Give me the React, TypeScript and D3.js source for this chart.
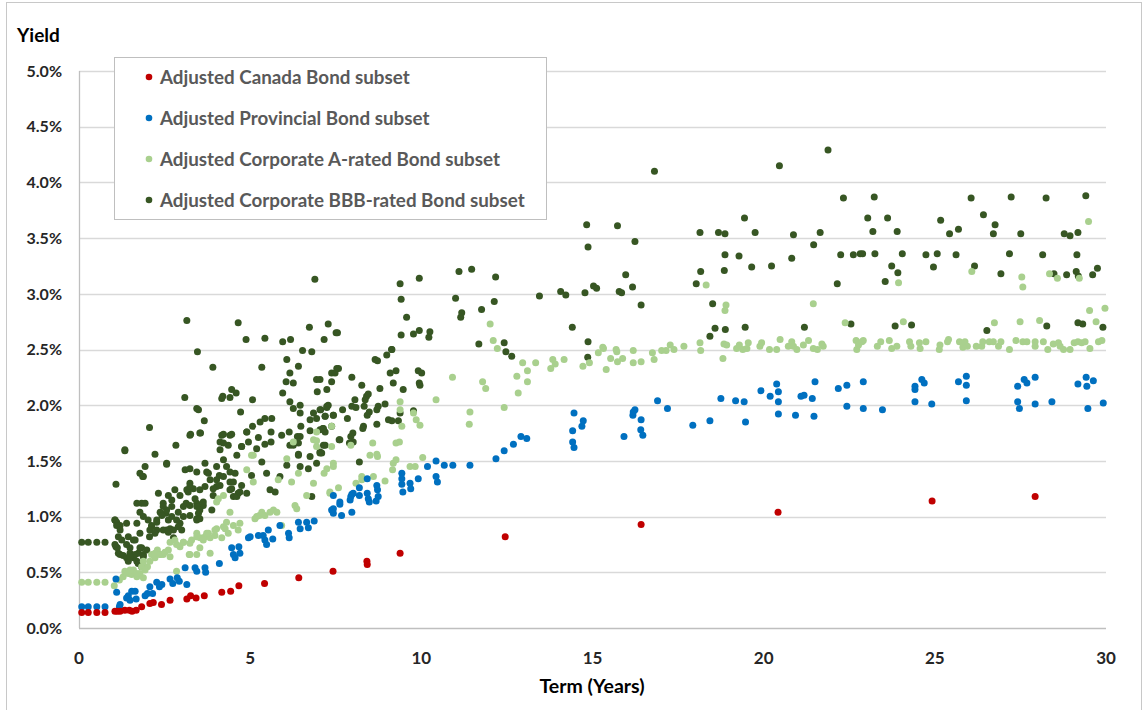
import React, { useEffect, useRef } from "react";
import * as d3 from "d3";

// [term in years, yield in %]
const canadaPoints = [
  [0.08, 0.14], [0.27, 0.14], [0.52, 0.14], [0.76, 0.14], [1.05, 0.15], [1.12, 0.15],
  [1.2, 0.15], [1.34, 0.16], [1.47, 0.16], [1.55, 0.15], [1.67, 0.16], [1.83, 0.19],
  [2.07, 0.22], [2.17, 0.23], [2.41, 0.21], [2.66, 0.25], [3.15, 0.26], [3.26, 0.29],
  [3.42, 0.27], [3.66, 0.29], [4.17, 0.32], [4.43, 0.33], [4.67, 0.38], [5.42, 0.4],
  [6.42, 0.45], [7.42, 0.51], [8.41, 0.6], [8.42, 0.57], [9.38, 0.67], [12.45, 0.82],
  [16.42, 0.93], [20.42, 1.04], [24.92, 1.14], [27.93, 1.18],
];

const provincialPoints = [
  [0.08, 0.19], [0.27, 0.19], [0.52, 0.19], [0.76, 0.19], [1.08, 0.44], [1.1, 0.32],
  [1.18, 0.19], [1.2, 0.21], [1.39, 0.27], [1.44, 0.29], [1.49, 0.25], [1.54, 0.33],
  [1.64, 0.33], [1.67, 0.26], [1.93, 0.29], [2.0, 0.31], [2.07, 0.37], [2.15, 0.31],
  [2.27, 0.41], [2.35, 0.37], [2.42, 0.39], [2.66, 0.44], [2.74, 0.4], [2.87, 0.45],
  [2.93, 0.42], [3.15, 0.39], [3.1, 0.54], [3.39, 0.54], [3.44, 0.51], [3.68, 0.54],
  [3.7, 0.5], [4.1, 0.58], [4.46, 0.72], [4.51, 0.66], [4.56, 0.63], [4.67, 0.73],
  [4.7, 0.67], [4.95, 0.81], [5.0, 0.82], [5.24, 0.83], [5.38, 0.83], [5.43, 0.79],
  [5.48, 0.75], [5.53, 0.88], [5.66, 0.8], [5.87, 0.92], [6.12, 0.85], [6.14, 0.81],
  [6.41, 0.95], [6.46, 0.89], [6.65, 0.95], [6.7, 0.9], [6.87, 0.96], [7.38, 1.06],
  [7.43, 1.19], [7.43, 1.07], [7.43, 1.03], [7.62, 1.13], [7.62, 1.11], [7.67, 1.01],
  [7.92, 1.15], [7.94, 1.18], [7.97, 1.2], [8.01, 1.21], [7.97, 1.04], [8.19, 1.26],
  [8.19, 1.19], [8.42, 1.34], [8.42, 1.21], [8.45, 1.16], [8.48, 1.13], [8.7, 1.28],
  [8.72, 1.24], [8.74, 1.18], [8.68, 1.14], [9.43, 1.39], [9.43, 1.34], [9.43, 1.29],
  [9.46, 1.22], [9.67, 1.3], [9.69, 1.25], [9.91, 1.34], [10.18, 1.45], [10.43, 1.5],
  [10.43, 1.36], [10.47, 1.31], [10.67, 1.46], [10.92, 1.46], [11.42, 1.46], [12.18, 1.52],
  [12.42, 1.59], [12.69, 1.65], [12.91, 1.72], [13.08, 1.7], [14.46, 1.93], [14.73, 1.86],
  [14.69, 1.81], [14.42, 1.77], [14.42, 1.67], [14.46, 1.62], [15.92, 1.72], [16.18, 1.91],
  [16.19, 1.94], [16.24, 1.96], [16.42, 1.87], [16.41, 1.78], [16.47, 1.73], [16.9, 2.04],
  [17.19, 1.97], [17.93, 1.82], [18.43, 1.86], [18.75, 2.06], [19.18, 2.04], [19.43, 2.03],
  [19.47, 1.85], [19.92, 2.13], [20.19, 2.08], [20.38, 2.19], [20.43, 2.12], [20.43, 2.03],
  [20.43, 1.92], [20.93, 1.91], [21.09, 2.08], [21.18, 2.09], [21.42, 2.06], [21.47, 1.9],
  [21.5, 2.21], [22.18, 2.15], [22.43, 2.18], [22.43, 1.99], [22.91, 2.21], [22.91, 1.97],
  [23.47, 1.96], [24.42, 2.17], [24.42, 2.14], [24.62, 2.23], [24.69, 2.2], [24.42, 2.03],
  [24.91, 2.01], [25.69, 2.21], [25.92, 2.26], [25.92, 2.18], [25.92, 2.04], [27.42, 2.17],
  [27.61, 2.23], [27.69, 2.2], [27.93, 2.25], [27.42, 2.03], [27.47, 1.97], [27.93, 2.01],
  [28.42, 2.03], [29.18, 2.19], [29.42, 2.25], [29.44, 2.17], [29.63, 2.22], [29.47, 1.97],
  [29.92, 2.02],
];

const corpAPoints = [
  [0.08, 0.41], [0.27, 0.41], [0.52, 0.41], [0.76, 0.41], [1.03, 0.38], [1.18, 0.43],
  [1.29, 0.46], [1.34, 0.51], [1.44, 0.49], [1.54, 0.48], [1.59, 0.52], [1.69, 0.46],
  [1.83, 0.55], [1.88, 0.6], [1.78, 0.49], [2.0, 0.55], [2.12, 0.66], [2.22, 0.63],
  [2.29, 0.7], [2.37, 0.66], [2.46, 0.66], [2.61, 0.7], [2.66, 0.77], [2.8, 0.79],
  [2.85, 0.51], [2.95, 0.73], [3.05, 0.77], [3.22, 0.66], [3.29, 0.79], [3.44, 0.85],
  [3.44, 0.66], [3.54, 0.81], [3.68, 0.82], [3.78, 0.85], [3.83, 0.81], [3.97, 0.83],
  [4.02, 0.89], [4.17, 0.81], [4.27, 0.89], [4.36, 0.85], [4.41, 1.04], [4.51, 0.92],
  [4.65, 0.88], [4.7, 0.94], [4.9, 1.42], [5.09, 1.55], [5.14, 0.98], [5.27, 1.01],
  [5.34, 1.04], [5.43, 1.01], [5.58, 1.04], [5.68, 1.06], [5.78, 1.04], [5.92, 0.92],
  [5.82, 1.33], [6.07, 1.52], [6.21, 1.31], [6.31, 1.1], [6.36, 1.07], [6.41, 1.39],
  [6.65, 1.19], [6.85, 1.3], [6.94, 1.63], [7.33, 1.22], [7.24, 1.43], [7.38, 1.81],
  [6.94, 1.76], [6.85, 1.69], [6.94, 1.68], [7.38, 1.63], [6.26, 1.67], [5.04, 1.55],
  [7.43, 1.48], [7.43, 1.45], [7.16, 1.39], [7.33, 1.21], [7.58, 1.26], [7.94, 1.64],
  [8.09, 1.3], [8.26, 1.36], [8.26, 1.33], [8.58, 1.66], [8.5, 1.55], [8.7, 1.56],
  [8.72, 1.54], [8.6, 1.36], [8.94, 1.32], [9.16, 1.42], [9.18, 1.48], [9.26, 1.51],
  [9.26, 1.66], [9.36, 1.67], [9.38, 2.03], [9.38, 1.96], [9.43, 1.81], [9.67, 1.45],
  [9.82, 1.45], [9.77, 1.93], [9.85, 1.87], [9.96, 1.82], [10.04, 1.53], [10.43, 2.05],
  [10.91, 2.25], [11.42, 1.94], [11.4, 1.83], [11.79, 2.21], [11.88, 2.15], [12.01, 2.73],
  [12.1, 2.58], [12.22, 2.51], [12.42, 1.98], [12.79, 2.26], [12.83, 2.11], [12.96, 2.38],
  [13.1, 2.31], [13.1, 2.21], [13.34, 2.38], [13.78, 2.33], [13.84, 2.41], [13.91, 2.37],
  [14.17, 2.41], [14.72, 2.35], [14.91, 2.38], [15.17, 2.47], [15.32, 2.51], [15.4, 2.32],
  [15.53, 2.42], [15.71, 2.48], [15.73, 2.39], [15.69, 2.5], [15.88, 2.42], [16.19, 2.49],
  [16.19, 2.38], [16.42, 2.39], [16.75, 2.47], [16.8, 2.41], [17.02, 2.49], [17.15, 2.49],
  [17.27, 2.54], [17.38, 2.5], [17.67, 2.53], [18.14, 2.56], [18.16, 2.49], [18.32, 3.08],
  [18.81, 2.42], [18.84, 2.55], [18.92, 2.54], [18.9, 2.9], [18.87, 2.85], [19.21, 2.51],
  [19.29, 2.54], [19.39, 2.5], [19.51, 2.51], [19.55, 2.56], [19.89, 2.53], [19.94, 2.56],
  [20.17, 2.5], [20.38, 2.5], [20.48, 2.59], [20.72, 2.53], [20.82, 2.57], [20.87, 2.53],
  [20.97, 2.5], [21.16, 2.54], [21.31, 2.58], [21.45, 2.51], [21.57, 2.5], [21.7, 2.55],
  [21.74, 2.53], [21.45, 2.91], [22.38, 2.74], [22.7, 2.58], [22.72, 2.5], [22.87, 2.57],
  [22.91, 2.58], [22.77, 2.54], [23.32, 2.53], [23.42, 2.57], [23.67, 2.58], [23.74, 2.51],
  [23.89, 2.53], [24.08, 2.75], [24.26, 2.57], [24.3, 2.53], [24.55, 2.56], [24.57, 2.51],
  [24.74, 2.57], [23.94, 3.1], [25.13, 2.5], [25.15, 2.54], [25.37, 2.57], [25.4, 2.59],
  [25.72, 2.57], [25.82, 2.52], [25.88, 2.57], [25.95, 2.53], [26.21, 2.53], [26.37, 2.53],
  [26.4, 2.57], [26.08, 3.2], [26.59, 2.57], [26.71, 2.57], [26.86, 2.53], [26.93, 2.57],
  [27.18, 2.5], [27.37, 2.58], [26.74, 2.74], [27.49, 2.75], [27.54, 3.15], [27.57, 3.06],
  [27.57, 2.57], [27.69, 2.57], [27.93, 2.57], [27.93, 2.53], [28.17, 2.57], [28.3, 2.5],
  [28.46, 2.55], [28.61, 2.56], [28.66, 2.53], [28.76, 2.5], [28.95, 2.5], [28.06, 2.76],
  [28.35, 3.18], [28.58, 3.14], [29.07, 2.56], [29.18, 2.57], [29.29, 2.56], [29.39, 2.57],
  [29.53, 2.51], [29.78, 2.57], [29.88, 2.58], [29.22, 3.14], [29.49, 3.65], [29.52, 2.85],
  [29.71, 2.75], [29.97, 2.87], [15.3, 2.52],
  [2.22, 0.67], [2.37, 0.66], [2.51, 0.68], [2.66, 0.64], [2.85, 0.75], [3.05, 0.77],
  [3.24, 0.76], [3.44, 0.82], [3.63, 0.79], [3.73, 0.85], [3.97, 0.88], [4.22, 0.91],
  [4.31, 0.95], [4.02, 1.13], [4.07, 1.16], [4.22, 1.19], [5.09, 1.31], [5.19, 1.0],
  [1.49, 0.52], [1.69, 0.49], [1.93, 0.52], [2.07, 0.6], [1.88, 0.45], [3.53, 0.72],
  [3.83, 0.67], [3.24, 0.66],
];

const corpBBBPoints = [
  [0.08, 0.77], [0.27, 0.77], [0.52, 0.77], [0.76, 0.77], [1.08, 1.29], [1.05, 0.97],
  [1.1, 0.95], [1.08, 0.73], [1.12, 0.72], [1.15, 0.67], [1.2, 0.66], [1.25, 0.79],
  [1.2, 0.92], [1.39, 0.94], [1.44, 0.82], [1.29, 0.65], [1.39, 0.63], [1.49, 0.72],
  [1.34, 1.59], [1.44, 0.6], [1.59, 0.63], [1.73, 0.67], [1.83, 0.72], [1.88, 0.66],
  [1.98, 0.7], [1.64, 0.79], [1.78, 0.85], [1.69, 0.94], [1.78, 1.04], [1.83, 1.12],
  [1.93, 1.12], [1.78, 1.39], [1.88, 1.36], [1.93, 1.45], [2.22, 1.56], [2.56, 1.47],
  [2.83, 1.64], [2.06, 0.82], [2.12, 0.92], [2.27, 0.97], [2.37, 1.04], [2.46, 1.12],
  [2.54, 1.03], [2.61, 0.97], [2.66, 0.89], [2.76, 0.81], [2.9, 1.04], [2.95, 0.94],
  [3.0, 0.88], [3.13, 1.12], [3.19, 1.22], [3.24, 1.3], [3.34, 1.25], [3.39, 1.16],
  [3.44, 1.12], [3.49, 1.03], [3.44, 0.98], [3.63, 1.1], [3.73, 1.4], [3.83, 1.33],
  [3.92, 1.19], [4.02, 1.27], [4.1, 1.37], [4.22, 1.51], [4.31, 1.45], [4.41, 1.31],
  [4.46, 1.25], [4.51, 1.18], [4.56, 1.39], [4.65, 1.21], [4.75, 1.28], [4.9, 1.21],
  [5.04, 1.37], [5.19, 1.61], [5.34, 1.49], [5.48, 1.39], [5.58, 1.24], [5.73, 1.22],
  [5.87, 1.36], [6.07, 1.46], [6.26, 1.64], [6.41, 1.55], [6.46, 1.45], [6.7, 1.43],
  [6.75, 1.54], [6.94, 1.48], [7.09, 1.57], [6.8, 1.18], [1.34, 1.6], [2.06, 1.8],
  [3.09, 2.07], [3.15, 2.76], [3.46, 2.48], [3.44, 1.97], [3.49, 1.96], [3.66, 1.86],
  [3.26, 1.74], [3.55, 1.75], [3.91, 2.34], [4.12, 1.67], [4.22, 1.74], [4.36, 1.64],
  [4.46, 1.74], [4.2, 2.08], [4.17, 2.06], [4.41, 2.07], [4.46, 2.14], [4.59, 2.11],
  [4.65, 2.74], [4.72, 1.94], [4.75, 1.63], [4.95, 1.67], [4.9, 1.76], [5.07, 1.81],
  [5.07, 2.05], [4.88, 2.59], [5.29, 1.85], [5.43, 1.88], [5.63, 1.88], [5.34, 2.34],
  [5.43, 2.6], [5.24, 1.71], [5.43, 1.65], [5.61, 1.67], [5.61, 1.76], [5.95, 2.57],
  [6.18, 2.59], [6.07, 2.41], [6.16, 2.29], [6.05, 2.21], [5.95, 2.11], [6.26, 2.2],
  [6.41, 2.35], [6.53, 2.49], [6.8, 2.48], [6.73, 2.7], [7.28, 2.73], [7.16, 2.59],
  [7.51, 2.65], [6.16, 2.03], [6.26, 1.97], [6.46, 2.0], [6.46, 1.93], [6.48, 1.81],
  [6.46, 1.72], [6.14, 1.76], [5.92, 1.73], [6.38, 1.72], [6.16, 1.64], [6.41, 1.66],
  [6.41, 1.56], [6.75, 1.87], [6.94, 1.88], [7.19, 1.9], [7.28, 2.0], [7.24, 1.98],
  [7.43, 1.91], [7.06, 1.96], [6.85, 1.93], [6.94, 2.23], [6.96, 2.12], [7.24, 2.14],
  [7.38, 2.21], [7.38, 2.29], [7.53, 2.33], [6.75, 1.77], [7.12, 1.79], [7.19, 1.76],
  [7.14, 1.64], [7.04, 1.58], [7.6, 1.69], [6.89, 3.13], [7.55, 2.65], [7.04, 2.23],
  [7.48, 2.29], [7.58, 2.33], [7.97, 2.25], [8.26, 2.18], [8.65, 2.41], [8.72, 2.4],
  [8.99, 2.45], [9.14, 2.5], [9.09, 2.29], [9.26, 2.31], [9.18, 2.2], [9.47, 2.14],
  [9.91, 2.31], [10.01, 2.29], [9.94, 2.2], [9.96, 2.18], [8.79, 2.15], [7.04, 1.96],
  [7.24, 1.99], [7.19, 1.9], [7.43, 1.91], [7.04, 1.78], [7.14, 1.79], [7.19, 1.64],
  [7.04, 1.57], [7.38, 1.81], [7.7, 1.96], [7.84, 1.88], [7.97, 1.99], [8.06, 2.05],
  [8.09, 1.98], [8.36, 2.05], [8.4, 2.08], [8.45, 2.1], [8.33, 1.99], [8.48, 1.94],
  [8.42, 1.91], [8.7, 1.96], [8.74, 1.99], [8.94, 2.01], [8.7, 1.83], [8.31, 1.81],
  [8.29, 1.79], [8.0, 1.75], [7.94, 1.72], [8.01, 1.67], [7.9, 1.66], [7.62, 1.69],
  [8.19, 1.49], [9.04, 1.87], [9.14, 1.86], [9.33, 1.86], [9.38, 1.93], [9.77, 1.95],
  [9.13, 2.5], [9.38, 3.09], [9.41, 2.95], [9.57, 2.79], [9.41, 2.63], [9.77, 2.64],
  [9.94, 2.67], [9.94, 3.14], [10.25, 2.66], [10.22, 2.61], [11.1, 3.2], [11.47, 3.22],
  [12.17, 3.15], [11.0, 2.96], [11.18, 2.83], [11.15, 2.79], [11.76, 2.86], [12.13, 2.93],
  [11.68, 2.55], [12.42, 2.56], [12.47, 2.48], [12.64, 2.44], [13.45, 2.98], [14.07, 3.02],
  [14.22, 2.99], [14.41, 2.7], [14.78, 3.01], [14.83, 3.62], [14.87, 3.42], [14.87, 2.57],
  [14.86, 2.43], [15.03, 3.07], [15.12, 3.05], [15.73, 3.61], [15.78, 3.02], [15.85, 3.01],
  [15.97, 3.17], [16.17, 3.06], [16.24, 3.47], [16.42, 2.9], [16.81, 4.1], [18.03, 3.09],
  [18.16, 3.2], [18.14, 3.55], [18.43, 2.62], [18.58, 2.69], [18.51, 2.91], [18.88, 2.68],
  [18.68, 3.55], [18.87, 3.54], [18.87, 3.35], [18.85, 3.21], [19.28, 3.34], [19.44, 3.68],
  [19.75, 3.55], [19.65, 3.24], [19.46, 2.7], [20.23, 3.25], [20.46, 4.15], [20.87, 3.53],
  [20.82, 3.32], [21.46, 3.44], [21.65, 3.55], [21.19, 2.7], [21.88, 4.29], [22.33, 3.86],
  [22.15, 3.09], [22.25, 3.35], [22.62, 3.35], [22.82, 3.36], [22.55, 2.73], [23.23, 3.87],
  [23.04, 3.68], [23.62, 3.68], [23.19, 3.56], [23.9, 3.56], [22.89, 3.36], [23.25, 3.36],
  [24.05, 3.36], [23.74, 3.25], [23.92, 3.19], [23.55, 3.11], [23.84, 2.71], [24.32, 2.72],
  [24.74, 3.35], [24.96, 3.24], [25.07, 3.36], [25.17, 3.66], [25.43, 3.54], [25.69, 3.58],
  [25.62, 3.35], [26.16, 3.25], [26.06, 3.86], [26.42, 3.71], [26.76, 3.62], [26.71, 3.54],
  [27.51, 3.54], [26.52, 2.67], [27.23, 3.87], [27.18, 3.36], [26.93, 3.18], [28.25, 3.86],
  [28.15, 3.35], [28.48, 3.18], [28.85, 3.17], [29.15, 3.35], [29.13, 3.2], [29.19, 3.16],
  [29.61, 3.17], [29.75, 3.23], [28.78, 3.54], [28.95, 3.52], [29.18, 3.55], [29.41, 3.88],
  [28.27, 2.71], [29.18, 2.74], [29.32, 2.73], [29.91, 2.7],
  [1.69, 1.12], [1.86, 1.36], [3.24, 1.73], [3.53, 1.75], [1.05, 0.97], [1.1, 0.92],
  [1.2, 0.88], [1.15, 0.82], [1.05, 0.75], [1.39, 0.75], [1.49, 0.67], [1.64, 0.66],
  [1.78, 0.72], [1.88, 0.64], [1.83, 0.55], [1.69, 0.6], [1.88, 1.0], [2.02, 0.97],
  [2.12, 0.91], [2.27, 0.95], [2.42, 1.01], [2.56, 1.06], [2.71, 1.09], [2.32, 1.21],
  [2.61, 1.19], [2.71, 1.15], [2.8, 1.24], [2.95, 1.19], [3.05, 1.09], [3.15, 1.24],
  [3.24, 1.27], [2.27, 0.88], [2.56, 0.88], [2.76, 0.88], [2.9, 0.91], [3.05, 1.0],
  [3.24, 1.01], [3.44, 1.09], [3.53, 1.06], [3.63, 1.13], [2.56, 1.48], [3.1, 1.42],
  [3.24, 1.43], [3.44, 1.4], [3.68, 1.48], [3.78, 1.39], [4.02, 1.45], [4.02, 1.33],
  [4.12, 1.28], [4.22, 1.36], [4.41, 1.4], [4.51, 1.31], [4.12, 1.6], [4.22, 1.66],
  [4.41, 1.73], [4.61, 1.55], [4.75, 1.63], [4.9, 1.76], [4.17, 1.73], [3.53, 1.24],
  [3.68, 1.27], [3.92, 1.25], [4.41, 1.24], [4.61, 1.18], [4.7, 1.22], [2.46, 1.09],
  [2.71, 1.0], [2.85, 0.97], [3.24, 1.1], [3.44, 0.97], [3.88, 1.06], [3.53, 0.98],
  [2.07, 0.88], [2.22, 0.85], [2.46, 0.88], [2.61, 0.86], [1.59, 0.79], [1.49, 0.64],
  [1.73, 0.58],
];

const seriesNames = [
  "Adjusted Canada Bond subset",
  "Adjusted Provincial Bond subset",
  "Adjusted Corporate A-rated Bond subset",
  "Adjusted Corporate BBB-rated Bond subset",
];
const seriesColors = ["#c00000", "#0070c0", "#a9d08e", "#375623"];
const yTicks = [0, 0.5, 1, 1.5, 2, 2.5, 3, 3.5, 4, 4.5, 5];
const xTicks = [0, 5, 10, 15, 20, 25, 30];

const font = "Lato, 'Open Sans', sans-serif";

const App = () => {
  const svgRef = useRef(null);

  useEffect(() => {
    const w = 1144;
    const h = 710;
    const svg = d3.select(svgRef.current).attr("width", w).attr("height", h);
    svg.selectAll("*").remove();

    const x = d3.scaleLinear().domain([0, 30]).range([79, 1106]);
    const y = d3.scaleLinear().domain([0, 5]).range([628, 71]);

    // chart frame
    svg
      .append("rect")
      .attr("x", 6.5)
      .attr("y", 2.5)
      .attr("width", 1135)
      .attr("height", 720)
      .attr("fill", "#fff")
      .attr("stroke", "#c8c8c8");

    // gridlines
    svg
      .append("g")
      .selectAll("line")
      .data(yTicks.filter((d) => d > 0))
      .join("line")
      .attr("x1", x(0))
      .attr("x2", x(30))
      .attr("y1", (d) => Math.round(y(d)) + 0.5)
      .attr("y2", (d) => Math.round(y(d)) + 0.5)
      .attr("stroke", "#d9d9d9")
      .attr("stroke-width", 1.3);

    // axis lines
    svg
      .append("line")
      .attr("x1", x(0) + 0.5)
      .attr("x2", x(0) + 0.5)
      .attr("y1", y(5))
      .attr("y2", y(0))
      .attr("stroke", "#bfbfbf")
      .attr("stroke-width", 1.3);
    svg
      .append("line")
      .attr("x1", x(0))
      .attr("x2", x(30))
      .attr("y1", Math.round(y(0)) + 0.5)
      .attr("y2", Math.round(y(0)) + 0.5)
      .attr("stroke", "#bfbfbf")
      .attr("stroke-width", 1.3);

    // tick labels
    svg
      .append("g")
      .selectAll("text")
      .data(yTicks)
      .join("text")
      .attr("x", 62)
      .attr("y", (d) => y(d))
      .attr("dy", "0.36em")
      .attr("text-anchor", "end")
      .attr("font-family", font)
      .attr("font-weight", 700)
      .attr("font-size", 16)
      .attr("fill", "#262626")
      .text((d) => d3.format(".1f")(d) + "%");

    svg
      .append("g")
      .selectAll("text")
      .data(xTicks)
      .join("text")
      .attr("x", (d) => x(d))
      .attr("y", 664)
      .attr("text-anchor", "middle")
      .attr("font-family", font)
      .attr("font-weight", 700)
      .attr("font-size", 17)
      .attr("fill", "#262626")
      .text((d) => d);

    // axis titles
    svg
      .append("text")
      .attr("x", 17)
      .attr("y", 42)
      .attr("font-family", font)
      .attr("font-weight", 700)
      .attr("font-size", 19)
      .attr("fill", "#000")
      .text("Yield");

    svg
      .append("text")
      .attr("x", 592)
      .attr("y", 693)
      .attr("text-anchor", "middle")
      .attr("font-family", font)
      .attr("font-weight", 700)
      .attr("font-size", 19.5)
      .attr("fill", "#000")
      .text("Term (Years)");

    // points, BBB first so the lower-yield series sit on top
    const all = [canadaPoints, provincialPoints, corpAPoints, corpBBBPoints];
    [3, 2, 1, 0].forEach((i) => {
      svg
        .append("g")
        .selectAll("circle")
        .data(all[i])
        .join("circle")
        .attr("cx", (d) => x(d[0]))
        .attr("cy", (d) => y(d[1]))
        .attr("r", 3.5)
        .attr("fill", seriesColors[i]);
    });

    // legend
    const legend = svg.append("g");
    legend
      .append("rect")
      .attr("x", 114.5)
      .attr("y", 57.5)
      .attr("width", 432)
      .attr("height", 162)
      .attr("fill", "#fff")
      .attr("stroke", "#bfbfbf");
    const rows = legend
      .selectAll("g")
      .data(seriesNames)
      .join("g")
      .attr("transform", (d, i) => `translate(0,${77 + i * 41})`);
    rows
      .append("circle")
      .attr("cx", 149)
      .attr("cy", 0)
      .attr("r", 3.3)
      .attr("fill", (d, i) => seriesColors[i]);
    rows
      .append("text")
      .attr("x", 160)
      .attr("y", 0)
      .attr("dy", "0.36em")
      .attr("font-family", font)
      .attr("font-weight", 700)
      .attr("font-size", 18.8)
      .attr("fill", "#595959")
      .text((d) => d);
  }, []);

  return (
    <div style={{ position: "absolute", left: 0, top: 0 }}>
      <svg ref={svgRef}></svg>
    </div>
  );
};

export default App;
